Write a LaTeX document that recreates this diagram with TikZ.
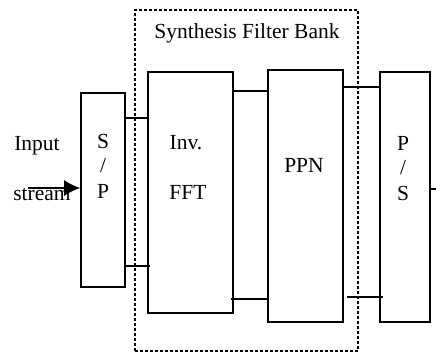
\documentclass[tikz,border=0pt]{standalone}
\usepackage{fontspec}
\setmainfont{Liberation Serif}
\usetikzlibrary{arrows.meta}
\begin{document}
\begin{tikzpicture}[x=1pt,y=-1pt,
  blk/.style={draw,line width=1.6pt,rectangle,inner sep=0pt},
  lbl/.style={inner sep=0pt,font=\fontsize{21.5}{25}\selectfont},
  wire/.style={line width=1.6pt},
  bank/.style={draw,line width=1.4pt,dash pattern=on 3pt off 2pt}]
\useasboundingbox (0,0) rectangle (436,353);
% dashed synthesis filter bank box
\node[bank,minimum width=223pt,minimum height=341pt,inner sep=0pt] (bank) at (246.5,180.5) {};
\node[lbl] (title) at (247,33) {Synthesis Filter Bank};
% blocks
\node[blk,minimum width=44pt,minimum height=194pt] (sp) at (103,190) {};
\node[blk,minimum width=85pt,minimum height=241pt] (fft) at (190.5,192.5) {};
\node[blk,minimum width=75pt,minimum height=252pt] (ppn) at (305.5,196) {};
\node[blk,minimum width=50pt,minimum height=250pt] (ps) at (405,197) {};
% labels
\node[lbl] (in1) at (37,146) {Input};
\node[lbl] (in2) at (42,195) {stream};
\node[lbl] (sp1) at (103,141) {S};
\node[lbl] (sp2) at (103,166) {/};
\node[lbl] (sp3) at (103,191) {P};
\node[lbl] (f1) at (186,143) {Inv.};
\node[lbl] (f2) at (188,192) {FFT};
\node[lbl] (p1) at (304,165) {PPN};
\node[lbl] (ps1) at (403,143) {P};
\node[lbl] (ps2) at (403,168) {/};
\node[lbl] (ps3) at (403,193) {S};
% input arrow
\coordinate (src) at (28,188);
\draw[wire,-{Latex[length=16pt,width=16pt]}] (src) -- (sp.west |- src);
% connectors
\draw[wire] (sp.east |- 0,118) -- (fft.west |- 0,118);
\draw[wire] (sp.east |- 0,266) -- (150,266);
\draw[wire] (fft.east |- 0,91) -- (ppn.west |- 0,91);
\draw[wire] (231,299) -- (ppn.west |- 0,299);
\draw[wire] (ppn.east |- 0,87) -- (ps.west |- 0,87);
\draw[wire] (347,297) -- (383,297);
\coordinate (out) at (436,189);
\draw[wire] (ps.east |- out) -- (out);
\end{tikzpicture}
\end{document}
